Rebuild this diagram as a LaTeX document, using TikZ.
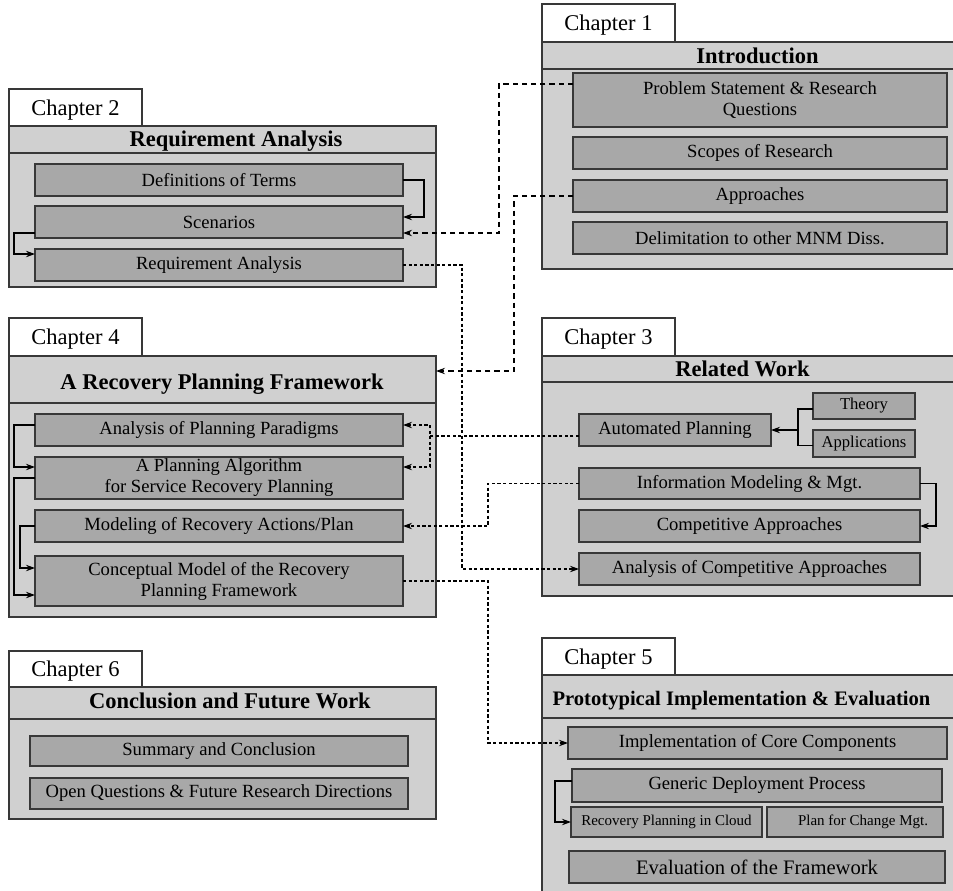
\documentclass[tikz,border=0pt]{standalone}
\usepackage{fontspec}
\setmainfont{Liberation Serif}
\usetikzlibrary{arrows.meta,calc}

\definecolor{chapfill}{HTML}{D0D0D0}
\definecolor{secfill}{HTML}{A8A8A8}
\definecolor{edge}{HTML}{383838}

\tikzset{
  box/.style={rectangle, inner sep=0pt, outer sep=0pt, draw=edge, line width=0.85pt},
  tabbox/.style={box, fill=white, text depth=0pt, font=\fontsize{11.25}{13}\selectfont},
  chapbody/.style={box, fill=chapfill},
  band/.style={box, fill=chapfill},
  chaptitle/.style={inner sep=0pt, anchor=base, font=\fontsize{11.25}{13}\selectfont\bfseries},
  sec/.style={box, fill=secfill, align=center, font=\fontsize{9.3}{10.5}\selectfont},
  smallsec/.style={sec, font=\fontsize{8.3}{10}\selectfont},
  tinysec/.style={sec, font=\fontsize{7.5}{9}\selectfont},
  plainlink/.style={line width=0.65pt, draw=black},
  link/.style={plainlink, -{Stealth[length=4.5pt,width=3.2pt]}},
  dashlink/.style={link, dash pattern=on 2.6pt off 2pt},
  dotlink/.style={link, dash pattern=on 1.6pt off 1.2pt},
}

% box from its two corners (x1,y1) and (x2,y2), in pixel units
\newcommand\boxat[7]{%
  \pgfmathsetmacro\bxcx{(#3+#5)/2}%
  \pgfmathsetmacro\bxcy{(#4+#6)/2}%
  \pgfmathsetmacro\bxw{(#5-#3)*0.5}%
  \pgfmathsetmacro\bxh{(#6-#4)*0.5}%
  \node[#2, minimum width=\bxw pt, minimum height=\bxh pt] (#1) at (\bxcx,\bxcy) {#7};}

\begin{document}
\begin{tikzpicture}[x=0.5pt, y=-0.5pt]
\useasboundingbox (0,0) rectangle (953,890);
\clip (0,0) rectangle (953,890);

% ---------- Chapter 1 ----------
\boxat{tab1}{tabbox}{542}{4}{675}{42}{Chapter 1}
\boxat{body1}{chapbody}{542}{42}{962}{269}{}
\boxat{band1}{band}{542}{42}{962}{69}{}
\node[chaptitle] (title1) at (757.5,63) {Introduction};
\boxat{prob}{sec}{573}{73}{947}{127}{Problem Statement \& Research\\Questions}
\boxat{scope}{sec}{573}{137}{947}{169}{Scopes of Research}
\boxat{appr}{sec}{573}{180}{947}{212}{Approaches}
\boxat{delim}{sec}{573}{222}{947}{254}{Delimitation to other MNM Diss.}

% ---------- Chapter 2 ----------
\boxat{tab2}{tabbox}{9}{89}{142}{126}{Chapter 2}
\boxat{body2}{chapbody}{9}{126}{436}{287}{}
\boxat{band2}{band}{9}{126}{436}{153}{}
\node[chaptitle] (title2) at (236,146.7) {Requirement Analysis};
\boxat{defs}{sec}{35}{164}{403}{196}{Definitions of Terms}
\boxat{scen}{sec}{35}{206}{403}{238}{Scenarios}
\boxat{reqan}{sec}{35}{249}{403}{281}{Requirement Analysis}

% ---------- Chapter 4 ----------
\boxat{tab4}{tabbox}{9}{318}{142}{356}{Chapter 4}
\boxat{body4}{chapbody}{9}{356}{436}{617}{}
\boxat{band4}{band}{9}{356}{436}{403}{}
\node[chaptitle] (title4) at (222,389) {A Recovery Planning Framework};
\boxat{paradigm}{sec}{35}{414}{403}{446}{Analysis of Planning Paradigms}
\boxat{algo}{sec}{35}{457}{403}{499}{A Planning Algorithm\\for Service Recovery Planning}
\boxat{model}{sec}{35}{510}{403}{542}{Modeling of Recovery Actions/Plan}
\boxat{concept}{sec}{35}{556}{403}{606}{Conceptual Model of the Recovery\\Planning Framework}

% ---------- Chapter 3 ----------
\boxat{tab3}{tabbox}{542}{318}{675}{356}{Chapter 3}
\boxat{body3}{chapbody}{542}{356}{962}{596}{}
\boxat{band3}{band}{542}{356}{962}{382}{}
\node[chaptitle] (title3) at (742.5,376.7) {Related Work};
\boxat{auto}{sec}{579}{414}{771}{446}{Automated Planning}
\boxat{theory}{smallsec}{813}{393}{915}{419}{Theory}
\boxat{appl}{smallsec}{813}{430}{915}{457}{Applications}
\boxat{info}{sec}{579}{468}{920}{499}{Information Modeling \& Mgt.}
\boxat{comp}{sec}{579}{510}{920}{542}{Competitive Approaches}
\boxat{ancomp}{sec}{579}{553}{920}{585}{Analysis of Competitive Approaches}

% ---------- Chapter 6 ----------
\boxat{tab6}{tabbox}{9}{651}{142}{687}{Chapter 6}
\boxat{body6}{chapbody}{9}{687}{436}{819}{}
\boxat{band6}{band}{9}{687}{436}{719}{}
\node[chaptitle] (title6) at (230,708) {Conclusion and Future Work};
\boxat{summary}{sec}{30}{736}{408}{766}{Summary and Conclusion}
\boxat{openq}{sec}{30}{778}{408}{809}{Open Questions \& Future Research Directions}

% ---------- Chapter 5 ----------
\boxat{tab5}{tabbox}{542}{638}{675}{675}{Chapter 5}
\boxat{body5}{chapbody}{542}{675}{962}{900}{}
\boxat{band5}{band}{542}{675}{962}{718}{}
\node[chaptitle, font=\fontsize{10.3}{12}\selectfont\bfseries] (title5) at (741.5,705) {Prototypical Implementation \& Evaluation};
\boxat{impl}{sec}{568}{727}{947}{759}{Implementation of Core Components}
\boxat{deploy}{sec}{572}{769}{942}{802}{Generic Deployment Process}
\boxat{cloud}{tinysec}{571}{807}{762}{837}{Recovery Planning in Cloud}
\boxat{change}{tinysec}{767}{807}{943}{837}{\hspace{8pt}Plan for Change Mgt.}
\boxat{evalfw}{sec, font=\fontsize{10.3}{12}\selectfont}{569}{851}{945}{883}{Evaluation of the Framework}

% ---------- links inside chapters ----------
\draw[link] (defs.east) -| ($(scen.east)+(21,-5)$) -- ($(scen.east)+(0,-5)$);
\draw[link] ($(scen.west)+(0,11)$) -| ($(reqan.west)+(-21,-11)$) -- ($(reqan.west)+(0,-11)$);

\draw[link] ($(paradigm.west)+(0,-5)$) -| ($(algo.west)+(-21,-11)$) -- ($(algo.west)+(0,-11)$);
\draw[link] (algo.west) -| ($(concept.west)+(-21,14)$) -- ($(concept.west)+(0,14)$);
\draw[link] (model.west) -| ($(concept.west)+(-15,-13)$) -- ($(concept.west)+(0,-13)$);

\draw[link] ($(theory.west)+(0,3)$) -| ($(auto.east)+(27,0)$) -- (auto.east);
\draw[plainlink] ($(appl.west)+(0,2)$) -| ($(auto.east)+(27,0)$);
\draw[link] (info.east) -| ($(comp.east)+(16,0)$) -- (comp.east);

\draw[link] ($(deploy.west)+(0,-4.5)$) -| ($(cloud.west)+(-16,0)$) -- (cloud.west);

% ---------- links between chapters ----------
\draw[dashlink] ($(prob.west)+(0,-16)$) -| ($(scen.east)+(96,11)$) -- ($(scen.east)+(0,11)$);
\draw[dashlink] (appr.west) -| ($(band4.east)+(78,-8.5)$) -- ($(band4.east)+(0,-8.5)$);
\draw[dotlink] (reqan.east) -| ($(ancomp.west)+(-117,0)$) -- (ancomp.west);
\draw[dotlink] ($(auto.west)+(0,6)$) -| ($(paradigm.east)+(27,-5)$) -- ($(paradigm.east)+(0,-5)$);
\draw[dotlink] ($(paradigm.east)+(27,6)$) |- ($(algo.east)+(0,-11)$);
\draw[dotlink] (info.west) -| ($(model.east)+(85,0)$) -- (model.east);
\draw[dotlink] (concept.east) -| ($(impl.west)+(-80,0)$) -- (impl.west);
\end{tikzpicture}
\end{document}
